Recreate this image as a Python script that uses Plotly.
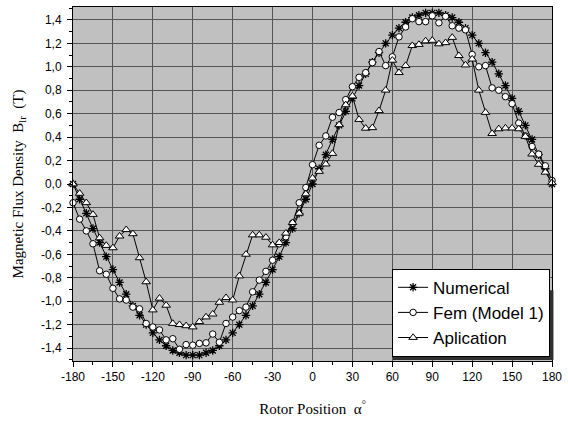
import plotly.graph_objects as go

angles = [-180, -175, -170, -165, -160, -155, -150, -145, -140, -135, -130, -125,
          -120, -115, -110, -105, -100, -95, -90, -85, -80, -75, -70, -65,
          -60, -55, -50, -45, -40, -35, -30, -25, -20, -15, -10, -5,
          0, 5, 10, 15, 20, 25, 30, 35, 40, 45, 50, 55,
          60, 65, 70, 75, 80, 85, 90, 95, 100, 105, 110, 115,
          120, 125, 130, 135, 140, 145, 150, 155, 160, 165, 170, 175, 180]

numerical = [0.00, -0.13, -0.25, -0.38, -0.50, -0.62, -0.73, -0.84, -0.94, -1.04, -1.12, -1.20,
             -1.27, -1.33, -1.38, -1.42, -1.44, -1.46, -1.46, -1.46, -1.44, -1.42, -1.38, -1.33,
             -1.27, -1.20, -1.12, -1.04, -0.94, -0.84, -0.73, -0.62, -0.50, -0.38, -0.25, -0.13,
             0.00, 0.13, 0.25, 0.38, 0.50, 0.62, 0.73, 0.84, 0.94, 1.04, 1.12, 1.20,
             1.27, 1.33, 1.38, 1.42, 1.44, 1.46, 1.46, 1.46, 1.44, 1.42, 1.38, 1.33,
             1.27, 1.20, 1.12, 1.04, 0.94, 0.84, 0.73, 0.62, 0.50, 0.38, 0.25, 0.13, 0.00]

fem_model1 = [-0.16, -0.30, -0.40, -0.51, -0.74, -0.77, -0.89, -0.98, -0.99, -1.05, -1.065, -1.19,
              -1.22, -1.245, -1.33, -1.32, -1.41, -1.37, -1.375, -1.36, -1.355, -1.28, -1.35, -1.19,
              -1.135, -1.08, -1.05, -0.92, -0.82, -0.745, -0.65, -0.51, -0.45, -0.335, -0.16, -0.03,
              0.165, 0.33, 0.41, 0.57, 0.61, 0.72, 0.83, 0.91, 0.95, 1.035, 1.13, 1.01,
              1.085, 1.255, 1.34, 1.41, 1.385, 1.385, 1.435, 1.375, 1.43, 1.35, 1.33, 1.315,
              1.105, 1.00, 1.01, 0.82, 0.80, 0.745, 0.685, 0.52, 0.41, 0.32, 0.255, 0.155, 0.03]

aplication = [0.00, -0.08, -0.16, -0.26, -0.46, -0.525, -0.545, -0.445, -0.39, -0.425, -0.63, -0.835,
              -1.075, -0.975, -1.035, -1.19, -1.20, -1.21, -1.22, -1.175, -1.135, -1.11, -1.01, -0.97,
              -0.99, -0.785, -0.60, -0.435, -0.435, -0.455, -0.52, -0.50, -0.42, -0.33, -0.25, -0.085,
              0.05, 0.107, 0.17, 0.26, 0.505, 0.675, 0.75, 0.55, 0.475, 0.48, 0.625, 0.80,
              1.055, 0.95, 1.01, 1.18, 1.19, 1.22, 1.225, 1.195, 1.205, 1.25, 1.095, 1.015,
              1.065, 0.80, 0.61, 0.43, 0.47, 0.477, 0.477, 0.47, 0.405, 0.255, 0.167, 0.10, 0.01]

x_tickvals = [-180, -150, -120, -90, -60, -30, 0, 30, 60, 90, 120, 150, 180]
x_ticktext = ["-180", "-150", "-120", "-90", "-60", "-30", "0", "30", "60", "90", "120", "150", "180"]
y_tickvals = [-1.4, -1.2, -1.0, -0.8, -0.6, -0.4, -0.2, 0.0, 0.2, 0.4, 0.6, 0.8, 1.0, 1.2, 1.4]
y_ticktext = ["-1,4", "-1,2", "-1,0", "-0,8", "-0,6", "-0,4", "-0,2", "0,0",
              "0,2", "0,4", "0,6", "0,8", "1,0", "1,2", "1,4"]

fig = go.Figure()
fig.add_trace(go.Scatter(
    x=angles, y=numerical, name="Numerical", mode="lines+markers", cliponaxis=False,
    line=dict(color="black", width=1),
    marker=dict(symbol="asterisk-open", size=7, color="black", line=dict(color="black", width=1.3))))
fig.add_trace(go.Scatter(
    x=angles, y=fem_model1, name="Fem (Model 1)", mode="lines+markers", cliponaxis=False,
    line=dict(color="black", width=1),
    marker=dict(symbol="circle", size=6.5, color="white", line=dict(color="black", width=1))))
fig.add_trace(go.Scatter(
    x=angles, y=aplication, name="Aplication", mode="lines+markers", cliponaxis=False,
    line=dict(color="black", width=1),
    marker=dict(symbol="triangle-up", size=7.5, color="white", line=dict(color="black", width=1))))

axis_font = dict(family="Liberation Sans, Arial", size=12, color="black")
title_font = dict(family="Liberation Serif, Times New Roman", size=15, color="black")

# legend drop shadow (paper coordinates)
fig.add_shape(type="rect", xref="paper", yref="paper",
              x0=0.668, x1=1.003, y0=0.003, y1=0.20,
              fillcolor="#303030", line=dict(width=0), layer="above")

fig.update_layout(
    width=568, height=421,
    margin=dict(l=73, r=13, t=6, b=59),
    paper_bgcolor="white", plot_bgcolor="#c0c0c0",
    showlegend=True,
    legend=dict(x=0.996, y=0.012, xanchor="right", yanchor="bottom",
                bgcolor="white", bordercolor="black", borderwidth=1,
                font=dict(family="Liberation Sans, Arial", size=17, color="black"),
                tracegroupgap=0),
    xaxis=dict(range=[-180, 180], tickvals=x_tickvals, ticktext=x_ticktext,
               ticks="outside", ticklen=5, tickcolor="black", tickwidth=1,
               showline=True, linecolor="black", linewidth=1, mirror=True,
               showgrid=True, gridcolor="#555555", gridwidth=1, zeroline=False,
               tickfont=axis_font,
               minor=dict(tickvals=[-165, -135, -105, -75, -45, -15, 15, 45, 75, 105, 135, 165],
                          ticks="outside", ticklen=3, tickcolor="black", showgrid=False),
               title=dict(text="Rotor Position \u00a0\u03b1<sup>\u00b0</sup>", font=title_font, standoff=20)),
    yaxis=dict(range=[-1.51, 1.51], tickvals=y_tickvals, ticktext=y_ticktext,
               ticks="outside", ticklen=5, tickcolor="black", tickwidth=1,
               showline=True, linecolor="black", linewidth=1, mirror=True,
               showgrid=True, gridcolor="#555555", gridwidth=1, zeroline=False,
               tickfont=axis_font, ticklabelstandoff=3,
               minor=dict(dtick=0.1, tick0=0, ticks="outside", ticklen=3, tickcolor="black", showgrid=False),
               title=dict(text="Magnetic Flux Density \u00a0B<sub>lr</sub> \u00a0(T)", font=title_font, standoff=13)),
)

fig.write_html("out.html", config={"displayModeBar": False},
               post_script="document.body.style.margin='0';")
